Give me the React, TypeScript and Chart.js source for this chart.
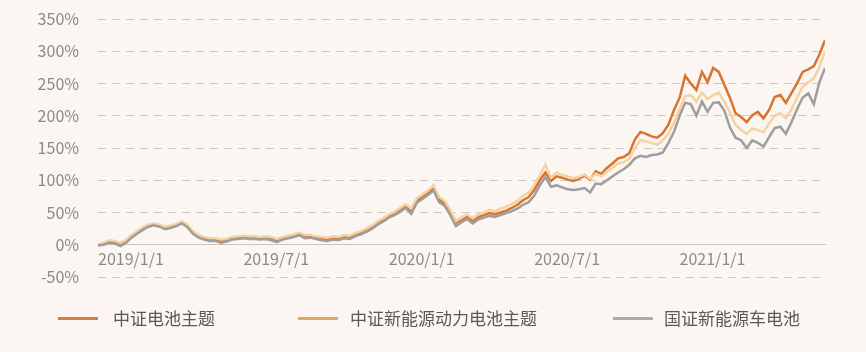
import React, { useEffect, useRef } from 'react';
import { Chart, registerables } from 'chart.js';

Chart.register(...registerables);

// x positions are week numbers counted from 2019/1/1
const tickWeeks = [0, 26, 52, 78, 104];
const tickLabels = ['2019/1/1', '2019/7/1', '2020/1/1', '2020/7/1', '2021/1/1'];
const yTicks = [-50, 0, 50, 100, 150, 200, 250, 300, 350];

const seriesNames = ['中证电池主题', '中证新能源动力电池主题', '国证新能源车电池'];
const lineColors = ['#D9732F', '#F5D2A0', '#9E9E9E'];
const legendColors = ['#DC7B45', '#DDAA62', '#ABABAB'];

// 中证电池主题 (%)
const batteryTheme = [
  0, 2, 5, 4, 1, 5, 13, 19, 25, 30, 32, 30, 26, 28, 30, 35, 29, 19, 13, 10,
  8, 8, 5, 7, 10, 11, 12, 11, 11, 10, 11, 9, 6, 10, 12, 14, 17, 12, 13, 11,
  9, 8, 10, 9, 12, 11, 15, 18, 22, 27, 33, 38, 44, 48, 53, 60, 52, 68, 74, 80,
  87, 70, 64, 50, 34, 39, 44, 37, 43, 46, 49, 47, 50, 53, 57, 62, 69, 74, 85, 100,
  112, 99, 106, 104, 101, 99, 102, 107, 101, 114, 110, 119, 126, 134, 136, 142, 163, 175, 172, 168,
  166, 173, 186, 209, 228, 262, 250, 240, 268, 252, 274, 268, 248, 228, 204, 198, 190, 201, 206, 196,
  209, 229, 232, 220, 235, 250, 268, 272, 277, 295, 317,
];

// 中证新能源动力电池主题 (%)
const powerBattery = [
  0, 3, 7, 6, 3, 7, 15, 21, 27, 31, 33, 31, 28, 30, 32, 36, 31, 21, 15, 12,
  10, 10, 8, 9, 12, 13, 14, 13, 13, 12, 13, 12, 9, 12, 14, 16, 19, 15, 15, 13,
  12, 11, 13, 12, 15, 14, 18, 21, 25, 30, 36, 41, 47, 51, 57, 63, 56, 72, 78, 84,
  92, 74, 68, 54, 37, 42, 47, 41, 47, 50, 54, 52, 56, 59, 63, 68, 76, 81, 92, 108,
  124, 104, 112, 108, 106, 103, 105, 109, 102, 110, 106, 113, 119, 126, 128, 133, 150, 162, 160, 158,
  155, 162, 172, 190, 210, 230, 232, 222, 236, 226, 232, 236, 222, 205, 186, 178, 172, 180, 178, 174,
  188, 200, 204, 196, 210, 228, 245, 252, 258, 275, 300,
];

// 国证新能源车电池 (%)
const nevBattery = [
  -1, 0, 3, 2, -2, 3, 11, 17, 23, 28, 30, 28, 24, 26, 29, 33, 27, 17, 11, 8,
  6, 6, 3, 5, 8, 9, 10, 9, 9, 8, 9, 7, 4, 8, 10, 12, 15, 10, 11, 9,
  7, 6, 8, 7, 10, 9, 13, 16, 20, 25, 31, 36, 42, 46, 51, 57, 48, 65, 71, 77,
  84, 66, 60, 46, 29, 35, 40, 33, 39, 42, 45, 43, 46, 49, 52, 56, 62, 66, 76, 92,
  105, 90, 92, 89, 86, 85, 86, 88, 81, 95, 94, 100, 106, 112, 117, 124, 134, 138, 136, 139,
  140, 143, 158, 175, 200, 220, 218, 200, 222, 206, 220, 221, 208, 182, 166, 162, 150, 162, 158, 152,
  167, 181, 183, 172, 190, 210, 228, 235, 218, 252, 274,
];

const allSeries = [batteryTheme, powerBattery, nevBattery];
const drawOrder = [2, 1, 0];

const FONT = '"Noto Sans CJK SC", "Noto Sans", sans-serif';
const BG = '#FCF6F2';

export default function App() {
  const canvasRef = useRef<HTMLCanvasElement | null>(null);

  useEffect(() => {
    const canvas = canvasRef.current;
    if (!canvas) return;
    const chart = new Chart(canvas, {
      type: 'line',
      data: {
        datasets: allSeries.map((values, si) => ({
          label: seriesNames[si],
          data: values.map((v, i) => ({ x: i, y: v })),
          borderColor: lineColors[si],
          backgroundColor: lineColors[si],
          borderWidth: 2.5,
          pointRadius: 0,
          tension: 0,
          fill: false,
          order: drawOrder[si],
        })),
      },
      options: {
        responsive: false,
        animation: false,
        events: [],
        layout: { padding: { left: 0, right: 41, top: 19, bottom: 75 } },
        plugins: {
          legend: { display: false },
          tooltip: { enabled: false },
        },
        scales: {
          x: {
            type: 'linear',
            min: 0,
            max: allSeries[0].length - 1,
            position: { y: 0 } as any,
            afterBuildTicks: (scale: any) => {
              scale.ticks = tickWeeks.map((v) => ({ value: v }));
            },
            afterFit: (scale: any) => {
              scale.height = 0;
            },
            ticks: {
              autoSkip: false,
              maxRotation: 0,
              align: 'start',
              padding: 5,
              color: '#8A8A8A',
              font: { family: FONT, size: 16 },
              callback: (v: any) => {
                const idx = tickWeeks.indexOf(Number(v));
                return idx >= 0 ? tickLabels[idx] : '';
              },
            },
            grid: { display: false, drawTicks: false },
            border: { display: true, color: '#C8C4C2', width: 1 },
          },
          y: {
            type: 'linear',
            min: yTicks[0],
            max: yTicks[yTicks.length - 1],
            afterBuildTicks: (scale: any) => {
              scale.ticks = yTicks.map((v) => ({ value: v }));
            },
            afterFit: (scale: any) => {
              scale.width = 98;
            },
            ticks: {
              padding: 0,
              color: '#8A8A8A',
              font: { family: FONT, size: 16 },
              callback: (v: any) => `${v}%`,
            },
            grid: {
              color: '#D0CAC6',
              lineWidth: 1,
              drawTicks: true,
              tickLength: 19,
              tickWidth: 0,
              tickColor: 'rgba(0,0,0,0)',
            },
            border: { display: false, dash: [8, 6] },
          },
        },
      },
    });
    return () => chart.destroy();
  }, []);

  const legendItems = [
    { swatch: 58, text: 113 },
    { swatch: 298, text: 350 },
    { swatch: 613, text: 664 },
  ];

  return (
    <div
      style={{
        position: 'fixed',
        left: 0,
        top: 0,
        width: 866,
        height: 352,
        background: BG,
        overflow: 'hidden',
      }}
    >
      <canvas ref={canvasRef} width={866} height={352} style={{ position: 'absolute', left: 0, top: 0 }} />
      {legendItems.map((it, i) => (
        <React.Fragment key={i}>
          <div
            style={{
              position: 'absolute',
              left: it.swatch,
              top: 317,
              width: 40,
              height: 3,
              background: legendColors[i],
            }}
          />
          <div
            style={{
              position: 'absolute',
              left: it.text,
              top: 306,
              height: 24,
              lineHeight: '24px',
              fontFamily: FONT,
              fontSize: 17,
              color: '#595959',
              whiteSpace: 'nowrap',
            }}
          >
            {seriesNames[i]}
          </div>
        </React.Fragment>
      ))}
    </div>
  );
}
